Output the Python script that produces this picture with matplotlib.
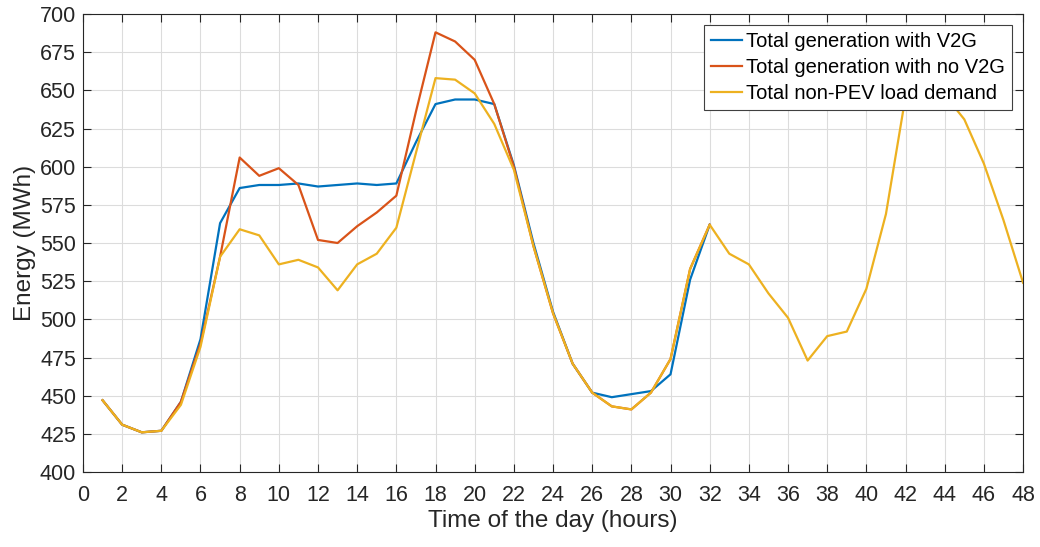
import matplotlib
matplotlib.use("Agg")
import matplotlib.pyplot as plt

# hours 1..48
hours = list(range(1, 49))

# total non-PEV load demand (MWh)
load_demand = [447, 431, 426, 427, 444, 482, 541, 559, 555, 536,
               539, 534, 519, 536, 543, 560, 609, 658, 657, 648,
               628, 598, 548, 504, 471, 452, 443, 441, 452, 474,
               533, 562, 543, 536, 517, 501, 473, 489, 492, 520,
               569, 646, 658, 647, 631, 602, 565, 524]

# total generation with V2G, hours 1..32
gen_v2g = [447, 431, 426, 427, 446, 487, 563, 586, 588, 588,
           589, 587, 588, 589, 588, 589, 616, 641, 644, 644,
           641, 601, 550, 505, 471, 452, 449, 451, 453, 464,
           526, 562]

# total generation without V2G, hours 1..32
gen_no_v2g = [447, 431, 426, 427, 446, 484, 541, 606, 594, 599,
              588, 552, 550, 561, 570, 581, 636, 688, 682, 670,
              641, 600, 548, 504, 471, 452, 443, 441, 452, 474,
              533, 562]

plt.rcParams["font.family"] = ["Liberation Sans", "DejaVu Sans"]

fig = plt.figure(figsize=(10.4, 5.47), dpi=100)
ax = fig.add_axes([0.0798, 0.1371, 0.9039, 0.8373])

ax.plot(hours[:len(gen_v2g)], gen_v2g, color="#0072BD", lw=1.6,
        label="Total generation with V2G")
ax.plot(hours[:len(gen_no_v2g)], gen_no_v2g, color="#D95319", lw=1.6,
        label="Total generation with no V2G")
ax.plot(hours, load_demand, color="#EDB120", lw=1.6,
        label="Total non-PEV load demand")

ax.set_xlim(0, 48)
ax.set_ylim(400, 700)
ax.set_xticks(range(0, 49, 2))
ax.set_yticks(range(400, 701, 25))
ax.tick_params(direction="in", length=6, width=0.8, top=True, right=True,
               labelsize=15.5, colors="#262626")
ax.tick_params(axis="x", pad=9)
ax.tick_params(axis="y", pad=5)
ax.grid(True, color="#dcdcdc", lw=0.8)
ax.set_axisbelow(True)
for s in ax.spines.values():
    s.set_color("#262626")
    s.set_linewidth(0.8)

ax.set_xlabel("Time of the day (hours)", fontsize=17.5, color="#262626",
              labelpad=3)
ax.set_ylabel("Energy (MWh)", fontsize=17.5, color="#262626", labelpad=3)

leg = ax.legend(loc="upper right", fontsize=14.5, handlelength=1.55,
                handletextpad=0.2, borderaxespad=0.55, borderpad=0.35,
                labelspacing=0.35, fancybox=False, framealpha=1,
                edgecolor="#404040")
leg.get_frame().set_linewidth(0.8)

fig.savefig("out.png", dpi=100)
